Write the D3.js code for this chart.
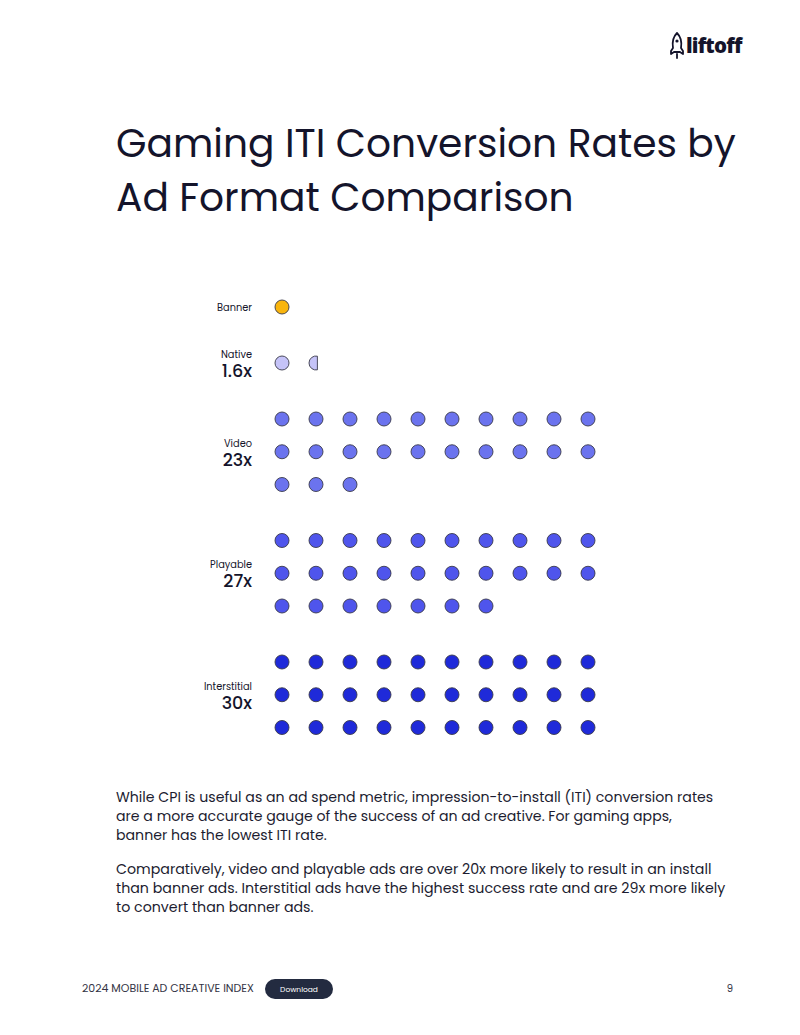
<!DOCTYPE html>
<html><head><meta charset="utf-8">
<script src="https://cdn.jsdelivr.net/npm/d3@7"></script>
<style>
html,body{margin:0;padding:0;background:#fff;}
svg{display:block;}
</style></head>
<body>
<svg id="c" width="800" height="1035"></svg>
<script>
const categories = ["Banner","Native","Video","Playable","Interstitial"];
const values = [1, 1.6, 23, 27, 30];
const valueLabels = ["", "1.6x", "23x", "27x", "30x"];
const colors = ["#F9B50E","#C5C3F8","#6B73EE","#4F55EC","#1F2AD9"];
const titleLines = ["Gaming ITI Conversion Rates by","Ad Format Comparison"];
const para1 = ["While CPI is useful as an ad spend metric, impression-to-install (ITI) conversion rates",
 "are a more accurate gauge of the success of an ad creative. For gaming apps,",
 "banner has the lowest ITI rate."];
const para2 = ["Comparatively, video and playable ads are over 20x more likely to result in an install",
 "than banner ads. Interstitial ads have the highest success rate and are 29x more likely",
 "to convert than banner ads."];

const FONT = "Poppins, 'Open Sans', Lato, sans-serif";
const svg = d3.select("#c");
const ink = "#14142B";

// logo
const logo = svg.append("g").attr("transform","translate(670,33)");
logo.append("path").attr("d","M7,0 C11,4 12,9 11,15 L13,18 L13,21 L10,19 L4,19 L1,21 L1,18 L3,15 C2,9 3,4 7,0 Z")
  .attr("fill","none").attr("stroke",ink).attr("stroke-width",1.8).attr("stroke-linejoin","round");
logo.append("circle").attr("cx",7).attr("cy",8).attr("r",1.6).attr("fill",ink);
logo.append("path").attr("d","M7,21 L7,25").attr("stroke",ink).attr("stroke-width",1.8).attr("stroke-linecap","round");
const lt = logo.append("text").attr("x",16).attr("y",20).attr("font-family","'Open Sans', sans-serif").attr("font-weight",800)
  .attr("font-size",22).attr("letter-spacing",-0.8).attr("fill",ink).text("liftoff");

// title
function fitText(sel, width){
  const w = sel.node().getComputedTextLength();
  const fs = parseFloat(sel.attr("font-size"));
  sel.attr("font-size", fs*width/w);
}
fitText(lt, 56);
const tl1 = svg.append("text").attr("x",116).attr("y",157).attr("font-family",FONT).attr("font-size",40)
  .attr("fill",ink).text(titleLines[0]);
fitText(tl1, 620);
const tfs = tl1.attr("font-size");
svg.append("text").attr("x",116).attr("y",211).attr("font-family",FONT).attr("font-size",tfs)
  .attr("fill",ink).text(titleLines[1]);

// chart
const perRow = 10;
const x = d3.scaleLinear().domain([0, perRow-1]).range([282, 588]);
const rowStep = 32.75, groupGap = 56;
const layout = [];
let yCur = 307;
categories.forEach((c,i)=>{
  const rows = Math.ceil(values[i]/perRow);
  layout.push({cat:c, value:values[i], label:valueLabels[i], color:colors[i], y0:yCur, rows});
  yCur += (rows-1)*rowStep + groupGap;
});

const chart = svg.append("g");
layout.forEach((g,gi)=>{
  const n = Math.ceil(g.value);
  const yRow = r => g.y0 + r*rowStep;
  const midY = yRow((g.rows-1)/2);
  for(let k=0;k<n;k++){
    const frac = Math.min(1, g.value - k);
    const cx = x(k%perRow), cy = yRow(Math.floor(k/perRow));
    const r = 7;
    if(frac >= 1){
      chart.append("circle").attr("cx",cx).attr("cy",cy).attr("r",r)
        .attr("fill",g.color).attr("stroke","#3a3a4a").attr("stroke-width",0.9);
    } else {
      const wclip = cx - r + 2*r*frac;
      const h = Math.sqrt(Math.max(0,r*r-(wclip-cx)**2));
      chart.append("path")
        .attr("d",`M${wclip},${cy-h} A${r},${r} 0 ${frac>0.5?1:0},0 ${wclip},${cy+h} Z`)
        .attr("fill",g.color).attr("stroke","#3a3a4a").attr("stroke-width",0.9).attr("stroke-linejoin","round");
    }
  }
  if(g.label){
    chart.append("text").attr("x",252).attr("y",midY-5).attr("text-anchor","end")
      .attr("font-family",FONT).attr("font-size",9.8).attr("fill",ink).text(g.cat);
    chart.append("text").attr("x",252).attr("y",midY+14).attr("text-anchor","end")
      .attr("font-family",FONT).attr("font-size",17.5).attr("font-weight",500).attr("fill",ink).text(g.label);
  } else {
    chart.append("text").attr("x",252).attr("y",midY+3.5).attr("text-anchor","end")
      .attr("font-family",FONT).attr("font-size",9.8).attr("fill",ink).text(g.cat);
  }
});

// paragraphs
function para(lines, y0, width){
  const t0 = svg.append("text").attr("x",116).attr("y",y0).attr("font-family",FONT).attr("font-size",14.5)
    .attr("fill","#1c1c30").text(lines[0]);
  fitText(t0, width);
  const fs = t0.attr("font-size");
  lines.slice(1).forEach((l,i)=>{
    svg.append("text").attr("x",116).attr("y",y0+19*(i+1)).attr("font-family",FONT).attr("font-size",fs)
      .attr("fill","#1c1c30").text(l);
  });
}
para(para1, 802, 598);
para(para2, 874, 596);

// footer
const ft = svg.append("text").attr("x",82).attr("y",992).attr("font-family",FONT).attr("font-size",10.5)
  .attr("fill","#333344").text("2024 MOBILE AD CREATIVE INDEX");
fitText(ft, 172);
svg.append("rect").attr("x",265).attr("y",979).attr("width",68).attr("height",20).attr("rx",10)
  .attr("fill","#232B40");
svg.append("text").attr("x",299).attr("y",991.5).attr("text-anchor","middle").attr("font-family",FONT)
  .attr("font-size",7.5).attr("fill","#fff").text("Download");
svg.append("text").attr("x",733).attr("y",992).attr("text-anchor","end").attr("font-family",FONT)
  .attr("font-size",10).attr("fill","#333344").text("9");
</script>
</body></html>
